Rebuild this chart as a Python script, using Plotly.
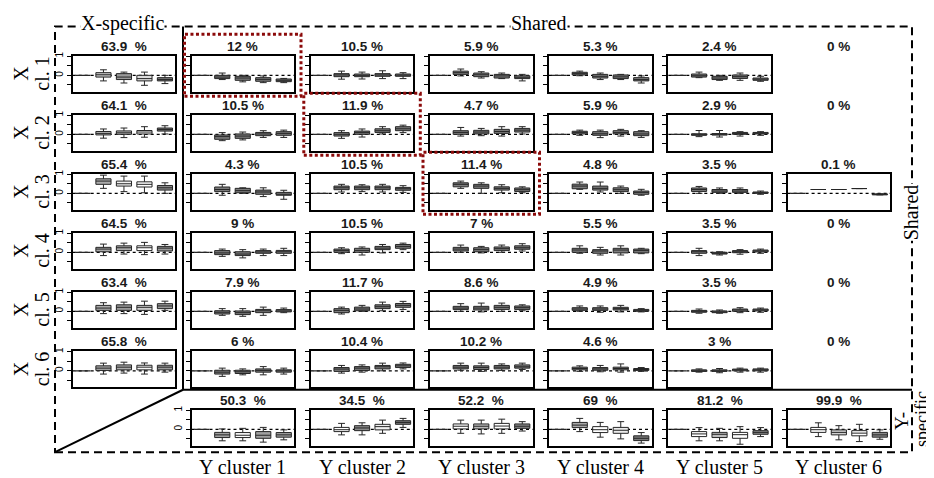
import plotly.graph_objects as go

# ---------------- data ----------------
# each box: (lower whisker, q1, median, q3, upper whisker); position 1 is a degenerate box at 0
col_labels = ["Y cluster 1", "Y cluster 2", "Y cluster 3", "Y cluster 4", "Y cluster 5", "Y cluster 6"]
row_labels = ["cl. 1", "cl. 2", "cl. 3", "cl. 4", "cl. 5", "cl. 6"]

x_specific_pct = ["63.9", "64.1", "65.4", "64.5", "63.4", "65.8"]
y_specific_pct = ["50.3", "34.5", "52.2", "69", "81.2", "99.9"]
shared_pct = [
    ["12", "10.5", "5.9", "5.3", "2.4", "0"],
    ["10.5", "11.9", "4.7", "5.9", "2.9", "0"],
    ["4.3", "10.5", "11.4", "4.8", "3.5", "0.1"],
    ["9", "10.5", "7", "5.5", "3.5", "0"],
    ["7.9", "11.7", "8.6", "4.9", "3.5", "0"],
    ["6", "10.4", "10.2", "4.6", "3", "0"],
]

x_specific_boxes = [
    [(-0.29, -0.09, 0.03, 0.14, 0.29), (-0.40, -0.22, -0.09, 0.09, 0.17), (-0.52, -0.29, -0.17, 0.0, 0.17), (-0.43, -0.29, -0.22, -0.12, 0.0)],
    [(-0.20, -0.03, 0.05, 0.15, 0.28), (-0.17, 0.0, 0.08, 0.18, 0.33), (-0.15, 0.02, 0.12, 0.20, 0.40), (0.02, 0.17, 0.25, 0.33, 0.45)],
    [(0.26, 0.47, 0.64, 0.76, 0.95), (0.09, 0.38, 0.50, 0.64, 0.90), (0.03, 0.33, 0.47, 0.60, 0.90), (0.0, 0.17, 0.29, 0.41, 0.55)],
    [(-0.17, 0.03, 0.17, 0.26, 0.43), (-0.09, 0.09, 0.24, 0.34, 0.48), (-0.12, 0.09, 0.24, 0.34, 0.52), (-0.09, 0.07, 0.22, 0.31, 0.41)],
    [(-0.12, 0.05, 0.17, 0.31, 0.45), (-0.12, 0.05, 0.21, 0.34, 0.48), (-0.16, 0.05, 0.21, 0.31, 0.53), (0.05, 0.14, 0.28, 0.40, 0.53)],
    [(-0.17, 0.02, 0.14, 0.26, 0.40), (-0.12, 0.05, 0.19, 0.31, 0.45), (-0.17, 0.05, 0.19, 0.29, 0.41), (-0.07, 0.05, 0.19, 0.29, 0.40)],
]

shared_row1 = [
    [(-0.22, -0.17, -0.09, 0.0, 0.12), (-0.34, -0.26, -0.14, -0.05, 0.0), (-0.38, -0.31, -0.21, -0.12, -0.03), (-0.38, -0.33, -0.26, -0.19, -0.16)],
    [(-0.20, -0.07, 0.02, 0.09, 0.22), (-0.19, -0.07, 0.0, 0.07, 0.17), (-0.17, -0.05, 0.02, 0.09, 0.24), (-0.17, -0.05, 0.01, 0.07, 0.14)],
    [(-0.03, 0.05, 0.14, 0.22, 0.33), (-0.14, -0.07, 0.03, 0.12, 0.19), (-0.17, -0.14, -0.03, 0.05, 0.12), (-0.29, -0.17, -0.10, -0.02, 0.05)],
    [(-0.02, 0.02, 0.09, 0.16, 0.22), (-0.22, -0.14, -0.05, 0.05, 0.12), (-0.22, -0.17, -0.08, 0.02, 0.05), (-0.40, -0.29, -0.22, -0.12, -0.03)],
    [(-0.12, -0.09, -0.02, 0.07, 0.17), (-0.26, -0.22, -0.14, -0.05, 0.0), (-0.26, -0.16, -0.07, 0.02, 0.12), (-0.31, -0.26, -0.20, -0.14, -0.05)],
    None,
]
shared_row2 = [
    [(-0.33, -0.26, -0.12, -0.03, 0.09), (-0.29, -0.21, -0.09, 0.02, 0.12), (-0.16, -0.07, 0.02, 0.10, 0.19), (-0.16, -0.05, 0.05, 0.14, 0.22)],
    [(-0.21, -0.09, 0.0, 0.09, 0.19), (-0.14, 0.0, 0.09, 0.17, 0.28), (0.02, 0.10, 0.19, 0.29, 0.40), (0.09, 0.19, 0.29, 0.40, 0.48)],
    [(-0.09, 0.0, 0.10, 0.19, 0.36), (-0.07, 0.02, 0.12, 0.21, 0.31), (-0.09, 0.05, 0.15, 0.26, 0.40), (0.02, 0.12, 0.22, 0.31, 0.40)],
    [(-0.05, 0.02, 0.09, 0.16, 0.22), (-0.17, -0.05, 0.03, 0.14, 0.22), (-0.09, 0.02, 0.09, 0.19, 0.26), (-0.16, -0.07, 0.02, 0.14, 0.19)],
    [(-0.12, -0.05, -0.02, 0.03, 0.20), (-0.14, -0.04, 0.0, 0.04, 0.20), (-0.09, 0.0, 0.05, 0.10, 0.14), (-0.05, 0.02, 0.06, 0.10, 0.14)],
    None,
]
shared_row3 = [
    [(-0.10, 0.09, 0.20, 0.33, 0.47), (0.0, 0.03, 0.14, 0.26, 0.29), (-0.17, -0.05, 0.07, 0.17, 0.29), (-0.31, -0.10, -0.05, 0.05, 0.16)],
    [(0.07, 0.19, 0.29, 0.38, 0.47), (0.09, 0.19, 0.29, 0.38, 0.45), (0.07, 0.19, 0.29, 0.38, 0.47), (0.05, 0.16, 0.24, 0.31, 0.40)],
    [(0.26, 0.34, 0.47, 0.55, 0.64), (0.0, 0.26, 0.38, 0.47, 0.55), (0.03, 0.17, 0.26, 0.34, 0.45), (0.03, 0.10, 0.19, 0.28, 0.34)],
    [(0.21, 0.24, 0.38, 0.48, 0.59), (0.07, 0.17, 0.26, 0.38, 0.59), (0.0, 0.09, 0.19, 0.29, 0.38), (-0.10, -0.05, 0.05, 0.12, 0.21)],
    [(0.0, 0.10, 0.20, 0.28, 0.36), (0.0, 0.05, 0.12, 0.20, 0.28), (0.0, 0.05, 0.12, 0.20, 0.28), (-0.05, 0.0, 0.03, 0.07, 0.12)],
    [(0.20, 0.20, 0.20, 0.20, 0.20), (0.20, 0.20, 0.20, 0.20, 0.20), (0.25, 0.25, 0.25, 0.25, 0.25), (-0.08, -0.08, -0.05, -0.03, -0.03)],
]
shared_row4 = [
    [(-0.21, -0.12, -0.03, 0.09, 0.17), (-0.29, -0.17, -0.09, 0.03, 0.14), (-0.17, -0.05, 0.02, 0.09, 0.17), (-0.17, -0.05, 0.03, 0.10, 0.21)],
    [(-0.07, 0.0, 0.09, 0.17, 0.24), (-0.14, 0.0, 0.10, 0.21, 0.28), (-0.03, 0.14, 0.22, 0.31, 0.41), (0.14, 0.21, 0.31, 0.41, 0.48)],
    [(0.0, 0.07, 0.17, 0.26, 0.38), (-0.03, 0.03, 0.14, 0.24, 0.31), (0.0, 0.09, 0.19, 0.28, 0.38), (0.07, 0.16, 0.24, 0.34, 0.45)],
    [(-0.05, 0.0, 0.12, 0.21, 0.34), (-0.14, -0.05, 0.07, 0.14, 0.26), (-0.14, -0.03, 0.12, 0.21, 0.34), (-0.07, -0.03, 0.09, 0.17, 0.21)],
    [(-0.17, -0.05, 0.03, 0.09, 0.21), (-0.14, -0.09, -0.05, 0.0, 0.03), (-0.10, -0.02, 0.03, 0.09, 0.14), (-0.05, 0.02, 0.08, 0.12, 0.17)],
    None,
]
shared_row5 = [
    [(-0.21, -0.14, -0.05, 0.03, 0.14), (-0.26, -0.17, -0.07, 0.02, 0.14), (-0.21, -0.07, 0.03, 0.10, 0.22), (-0.07, -0.03, 0.02, 0.09, 0.17)],
    [(-0.14, -0.07, 0.05, 0.14, 0.22), (0.0, 0.03, 0.12, 0.22, 0.31), (0.03, 0.14, 0.24, 0.34, 0.48), (0.10, 0.21, 0.31, 0.41, 0.52)],
    [(0.0, 0.09, 0.17, 0.26, 0.40), (-0.03, 0.07, 0.17, 0.26, 0.43), (0.0, 0.10, 0.21, 0.31, 0.43), (0.03, 0.10, 0.19, 0.28, 0.34)],
    [(0.0, 0.05, 0.12, 0.19, 0.28), (-0.05, 0.05, 0.12, 0.19, 0.28), (-0.03, 0.07, 0.14, 0.21, 0.31), (-0.03, 0.0, 0.05, 0.10, 0.14)],
    [(-0.10, -0.05, 0.0, 0.05, 0.12), (-0.10, -0.07, -0.03, 0.02, 0.07), (-0.07, 0.0, 0.07, 0.12, 0.19), (-0.05, 0.02, 0.07, 0.12, 0.17)],
    None,
]
shared_row6 = [
    [(-0.29, -0.17, -0.07, 0.03, 0.14), (-0.21, -0.14, -0.05, 0.03, 0.10), (-0.21, -0.07, 0.02, 0.10, 0.22), (-0.17, -0.07, 0.0, 0.05, 0.14)],
    [(-0.12, -0.03, 0.09, 0.17, 0.28), (-0.07, 0.02, 0.14, 0.22, 0.31), (0.0, 0.10, 0.21, 0.28, 0.40), (0.10, 0.17, 0.26, 0.34, 0.41)],
    [(0.03, 0.10, 0.19, 0.28, 0.40), (-0.03, 0.07, 0.17, 0.26, 0.40), (0.02, 0.10, 0.19, 0.28, 0.36), (0.07, 0.14, 0.21, 0.31, 0.40)],
    [(-0.03, 0.05, 0.12, 0.19, 0.26), (-0.05, 0.03, 0.10, 0.17, 0.28), (-0.07, 0.05, 0.12, 0.19, 0.36), (-0.03, 0.02, 0.07, 0.12, 0.17)],
    [(-0.07, -0.03, 0.0, 0.05, 0.10), (-0.10, -0.03, 0.0, 0.05, 0.12), (-0.07, 0.0, 0.05, 0.09, 0.14), (-0.07, 0.0, 0.05, 0.10, 0.14)],
    None,
]
shared_rows = [shared_row1, shared_row2, shared_row3, shared_row4, shared_row5, shared_row6]

y_specific_boxes = [
    [(-0.60, -0.43, -0.29, -0.16, 0.02), (-0.60, -0.43, -0.31, -0.17, 0.05), (-0.67, -0.47, -0.31, -0.12, 0.10), (-0.55, -0.41, -0.29, -0.17, -0.03)],
    [(-0.29, -0.12, -0.02, 0.10, 0.31), (-0.29, -0.07, 0.07, 0.19, 0.34), (-0.21, -0.03, 0.14, 0.26, 0.48), (0.10, 0.26, 0.36, 0.45, 0.57)],
    [(-0.21, 0.02, 0.16, 0.28, 0.48), (-0.24, 0.02, 0.16, 0.28, 0.48), (-0.21, 0.02, 0.17, 0.31, 0.53), (-0.09, 0.05, 0.16, 0.28, 0.40)],
    [(-0.12, 0.09, 0.22, 0.36, 0.57), (-0.41, -0.17, -0.02, 0.14, 0.36), (-0.50, -0.21, -0.05, 0.10, 0.40), (-0.72, -0.59, -0.47, -0.34, -0.17)],
    [(-0.60, -0.38, -0.24, -0.12, 0.09), (-0.60, -0.43, -0.26, -0.16, 0.05), (-0.78, -0.47, -0.28, -0.16, 0.14), (-0.38, -0.26, -0.16, -0.07, 0.09)],
    [(-0.38, -0.16, -0.02, 0.10, 0.34), (-0.55, -0.29, -0.16, -0.03, 0.19), (-0.64, -0.34, -0.20, -0.07, 0.26), (-0.52, -0.41, -0.29, -0.16, -0.03)],
]

# ---------------- styles ----------------
x_specific_fills = [
    ["#c8c8c8", "#9a9a9a", "#dcdcdc", "#7a7a7a"],
    ["#bbbbbb", "#bbbbbb", "#ffffff", "#777777"],
    ["#aaaaaa", "#f2f2f2", "#ffffff", "#888888"],
    ["#aaaaaa", "#aaaaaa", "#ffffff", "#999999"],
    ["#aaaaaa", "#999999", "#cccccc", "#999999"],
    ["#aaaaaa", "#aaaaaa", "#f5f5f5", "#999999"],
]
y_specific_fills = [
    ["#a0a0a0", "#ffffff", "#a0a0a0", "#a0a0a0"],
    ["#ffffff", "#8a8a8a", "#f0f0f0", "#777777"],
    ["#ffffff", "#bbbbbb", "#ffffff", "#888888"],
    ["#a8a8a8", "#ffffff", "#ececec", "#777777"],
    ["#ffffff", "#bbbbbb", "#ffffff", "#888888"],
    ["#ffffff", "#d0d0d0", "#ffffff", "#888888"],
]
SHARED_FILL = "#7c7c7c"

# The page body has an 8px default margin: the figure is placed at (8, 8);
# keep the figure inside the 934x478 window so no scrollbars appear.
OFF = 8
W, H = 934 - OFF, 478 - OFF
def fx(px):
    return (px - OFF) / W
def fy(py):
    return 1 - (py - OFF) / H

COL_LEFT = [72.7, 191.5, 310.8, 430.0, 549.0, 668.3, 787.6]
PANEL_W = 102.5
ROW_TOP = [52.0, 111.5, 171.0, 230.5, 290.0, 350.0, 409.0]
PANEL_H = 36.5
YR = [-0.86, 1.03]

SERIF = "Liberation Serif, Times New Roman, serif"
SANS = "Liberation Sans, Arial, sans-serif"

panels = []  # (row, col, title, boxes, fills, labeled)
for r in range(6):
    panels.append((r, 0, x_specific_pct[r] + "\u00a0\u00a0%", x_specific_boxes[r], x_specific_fills[r], True))
    for c in range(6):
        if shared_rows[r][c] is not None:
            panels.append((r, c + 1, shared_pct[r][c] + " %", shared_rows[r][c], [SHARED_FILL] * 4, False))
for c in range(6):
    panels.append((6, c + 1, y_specific_pct[c] + "\u00a0\u00a0%", y_specific_boxes[c], y_specific_fills[c], c == 0))

fig = go.Figure()
layout = {}
shapes = []
annotations = []

def add_box(xa, ya, pos, stats, fill, lw=1.0):
    lo, q1, md, q3, hi = stats
    fig.add_trace(go.Box(
        x=[pos], q1=[q1], median=[md], q3=[q3], lowerfence=[lo], upperfence=[hi],
        width=0.74, whiskerwidth=0.45, fillcolor=fill,
        line=dict(color="#262626", width=lw), boxpoints=False,
        xaxis=xa, yaxis=ya, showlegend=False, hoverinfo="skip"))

TITLE_FONT = dict(family=SANS, size=13.5, color="#1a1a1a", weight="bold")

for k, (r, c, title, boxes, fills, labeled) in enumerate(panels, start=1):
    xa = "x" if k == 1 else f"x{k}"
    ya = "y" if k == 1 else f"y{k}"
    xl = "xaxis" if k == 1 else f"xaxis{k}"
    yl = "yaxis" if k == 1 else f"yaxis{k}"
    left = COL_LEFT[c]
    top = ROW_TOP[r]
    layout[xl] = dict(domain=[fx(left), fx(left + PANEL_W)], anchor=ya, range=[0.5, 5.5],
                      showline=True, mirror=True, linecolor="black", linewidth=2,
                      showticklabels=False, ticks="", showgrid=False, zeroline=False, fixedrange=True)
    layout[yl] = dict(domain=[fy(top + PANEL_H), fy(top)], anchor=xa, range=YR,
                      showline=True, mirror=True, linecolor="black", linewidth=2,
                      tickvals=[-0.5, 0, 0.5, 1], ticktext=["", "0", "", "1"],
                      ticks="outside", ticklen=4, tickwidth=1, tickcolor="black",
                      showticklabels=labeled, tickangle=-90,
                      tickfont=dict(family=SANS, size=10, color="black"),
                      showgrid=False, zeroline=False, fixedrange=True)
    shapes.append(dict(type="line", xref=f"{xa} domain", yref=ya, x0=0, x1=1, y0=0, y1=0,
                       line=dict(color="black", width=1.2, dash="dot"), layer="below"))
    add_box(xa, ya, 1, (0, 0, 0, 0, 0), "#ffffff", lw=1.3)
    for i, (st, fl) in enumerate(zip(boxes, fills)):
        add_box(xa, ya, i + 2, st, fl)
    annotations.append(dict(x=fx(left + PANEL_W / 2), y=fy(top - 9.5), xref="paper", yref="paper",
                            text=title, showarrow=False, xanchor="center", yanchor="middle",
                            font=TITLE_FONT))

for r in range(6):
    if shared_rows[r][5] is None:
        annotations.append(dict(x=fx(COL_LEFT[6] + PANEL_W / 2), y=fy(ROW_TOP[r] - 9.5), xref="paper", yref="paper",
                                text=shared_pct[r][5] + " %", showarrow=False, xanchor="center", yanchor="middle",
                                font=TITLE_FONT))

for r in range(6):
    cy = fy(ROW_TOP[r] + PANEL_H / 2)
    annotations.append(dict(x=fx(21), y=cy, xref="paper", yref="paper", text="X", textangle=-90,
                            showarrow=False, xanchor="center", yanchor="middle",
                            font=dict(family=SERIF, size=20, color="black")))
    annotations.append(dict(x=fx(42), y=cy, xref="paper", yref="paper", text=row_labels[r], textangle=-90,
                            showarrow=False, xanchor="center", yanchor="middle",
                            font=dict(family=SERIF, size=20, color="black")))
for c in range(6):
    annotations.append(dict(x=fx(COL_LEFT[c + 1] + PANEL_W / 2), y=fy(467), xref="paper", yref="paper",
                            text=col_labels[c], showarrow=False, xanchor="center", yanchor="middle",
                            font=dict(family=SERIF, size=20, color="black")))

region = [
    dict(x=fx(122.5), y=fy(19.5), text="X-specific", textangle=0, bgcolor="white", size=20),
    dict(x=fx(539), y=fy(19.5), text="Shared", textangle=0, bgcolor="white", size=20),
    dict(x=fx(911), y=fy(210), text="Shared", textangle=-90, bgcolor="white", size=20),
    dict(x=fx(901.5), y=fy(421), text="Y-", textangle=-90, size=19),
    dict(x=fx(921.5), y=fy(419), text="specific", textangle=-90, size=18),
]
for a in region:
    sz = a.pop("size")
    a.update(xref="paper", yref="paper", showarrow=False, xanchor="center", yanchor="middle",
             font=dict(family=SERIF, size=sz, color="black"), borderpad=0)
annotations += region

shapes.append(dict(type="rect", xref="paper", yref="paper", x0=fx(55), x1=fx(912), y0=fy(452), y1=fy(22.7),
                   line=dict(color="black", width=2, dash="8px,5px")))
for (x0, y0, x1, y1) in [(183, 22.7, 183, 389), (183, 389, 912, 389), (55, 452, 183, 389)]:
    shapes.append(dict(type="line", xref="paper", yref="paper", x0=fx(x0), y0=fy(y0), x1=fx(x1), y1=fy(y1),
                       line=dict(color="black", width=2)))
for i in range(3):
    l = COL_LEFT[i + 1]
    t = ROW_TOP[i]
    shapes.append(dict(type="rect", xref="paper", yref="paper",
                       x0=fx(l - 7), x1=fx(l + PANEL_W + 7), y0=fy(t + PANEL_H + 4.5), y1=fy(t - 21.5),
                       line=dict(color="#8b0a0a", width=3, dash="3px,2.5px")))

fig.update_layout(**layout)
fig.update_layout(width=W, height=H, margin=dict(l=0, r=0, t=0, b=0),
                  paper_bgcolor="white", plot_bgcolor="white", showlegend=False,
                  shapes=shapes, annotations=annotations)
fig.write_html("out.html")
